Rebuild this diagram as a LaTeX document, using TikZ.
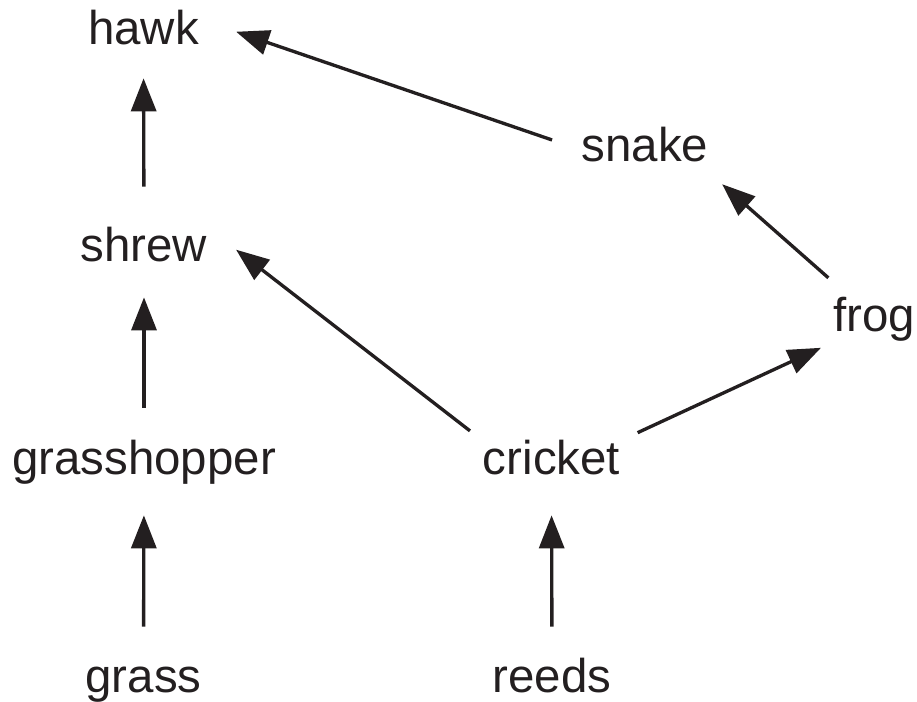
\documentclass[tikz,border=0pt]{standalone}
\usepackage{fontspec}
\setmainfont{Liberation Sans}
\usetikzlibrary{arrows.meta}
\definecolor{ink}{RGB}{35,31,32}

\begin{document}
\begin{tikzpicture}[x=0.02cm, y=-0.02cm,
  animal/.style={anchor=base, inner sep=0pt, text height=0.68cm, text depth=0.2cm,
    text=ink, font=\fontsize{27}{32}\selectfont},
  eats/.style={draw=ink, line width=1.9pt, -{Triangle[length=0.66cm,width=0.5cm]}}]
\useasboundingbox (0,0) rectangle (917,702);

\node[animal] (hawk) at (143.5,45) {hawk};
\node[animal] (snake) at (645,162) {snake};
\node[animal] (shrew) at (144,262) {shrew};
\node[animal] (frog) at (874,332) {frog};
\node[animal] (grasshopper) at (144,475) {grasshopper};
\node[animal] (cricket) at (551.5,475) {cricket};
\node[animal] (grass) at (143.5,692) {grass};
\node[animal] (reeds) at (552,692) {reeds};

\draw[eats, shorten <=0.62cm, shorten >=0.6cm] (grass.north) -- (grasshopper.south);
\draw[eats, shorten <=0.62cm, shorten >=0.6cm] (reeds.north) -- (cricket.south);
\draw[eats, shorten <=0.66cm, shorten >=0.5cm] (grasshopper.north) -- (shrew.south);
\draw[eats, shorten <=0.82cm, shorten >=0.46cm] (shrew.north) -- (hawk.south);

\draw[eats, shorten <=0.32cm, shorten >=0.72cm] (cricket.north west) -- (shrew.north east);
\draw[eats, shorten <=0.38cm, shorten >=0.26cm] (cricket.north east) -- (frog.south west);
\draw[eats, shorten <=0.6cm, shorten >=0.36cm] (frog.136) -- (snake.south east);
\draw[eats, shorten <=0.62cm, shorten >=0.78cm] (snake.west) -- (hawk.14);
\end{tikzpicture}
\end{document}
